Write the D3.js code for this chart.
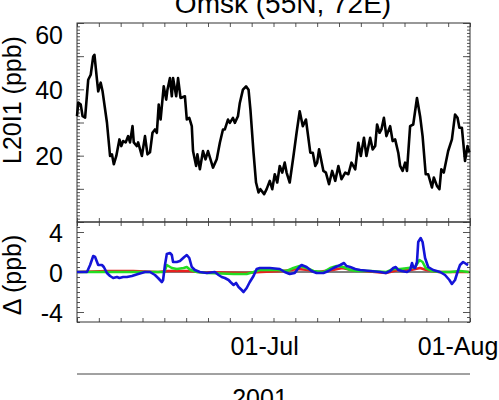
<!DOCTYPE html>
<html>
<head>
<meta charset="utf-8">
<script src="https://cdn.jsdelivr.net/npm/d3@7"></script>
<style>
body { margin: 0; background: #fff; }
text { font-family: "Liberation Sans", Arial, sans-serif; fill: #000; }
</style>
</head>
<body>
<div id="chart"></div>
<script>
// days counted from 01-Jun-2001 00:00
var startDate = new Date(2001, 5, 1);
var endDate = new Date(2001, 7, 3);

var blackDays = [0, 0.2, 0.6, 0.9, 1.3, 1.8, 2.2, 2.6, 2.8, 3.2, 3.4, 3.8, 4.1, 4.8, 5.3, 5.6, 5.9, 6.3, 6.8, 7.1,
	7.4, 7.8, 8.2, 8.5, 8.9, 9.1, 9.6, 9.8, 10.4, 10.9, 11.3, 11.7, 12.1, 12.5, 12.8, 13.1, 13.4, 13.9, 14.3, 14.5,
	14.9, 15.2, 15.4, 15.9, 16.2, 16.6, 17.3, 17.6, 18.0, 18.4, 18.6, 19.1, 19.3, 19.7, 20.2, 20.6, 21.0, 21.4, 21.8, 22.4,
	22.9, 23.4, 23.7, 24.2, 24.5, 25.0, 25.3, 25.8, 26.1, 26.6, 27.1, 27.5, 27.8, 28.3, 28.7, 29.1, 29.4, 30.0, 30.4, 30.9,
	31.3, 31.7, 32.1, 32.5, 32.9, 33.3, 33.6, 34.1, 34.7, 35.2, 35.7, 36.2, 36.7, 37.4, 37.8, 38.2, 38.5, 38.8, 39.5, 39.9,
	40.4, 40.9, 41.4, 41.9, 42.4, 43.0, 43.5, 44.0, 44.6, 45.1, 45.5, 46.0, 46.4, 47.0, 47.4, 47.8, 48.1, 48.5, 48.8, 49.2,
	49.6, 50.2, 50.6, 51.0, 51.5, 51.8, 52.2, 52.6, 52.9, 53.4, 53.9, 54.5, 55.0, 55.4, 55.9, 56.3, 56.9, 57.2, 57.7, 58.1,
	58.4, 58.8, 59.5, 60.1, 60.6, 61.0, 61.3, 61.7, 62.2, 62.6, 62.9];
var blackVals = [31.9, 36, 35.4, 31.9, 31.5, 42.9, 44.4, 49.9, 50.4, 42.9, 39.4, 42, 39.4, 30, 19.9, 20.4, 17.4, 19.9, 24.9, 22.9,
	24.4, 24, 25.9, 24, 28.9, 24, 22.9, 24, 19.9, 25.9, 20.4, 21, 26.9, 27.9, 26.9, 35.4, 30.9, 40.9, 36.9, 39.9,
	43.4, 37.9, 43.4, 37.9, 43.4, 37.4, 37.9, 30.9, 31.4, 28.9, 21.4, 16.9, 20.4, 15.9, 21.4, 18.9, 21.4, 18.9, 16.4, 18.9,
	23.9, 27.9, 27.9, 30.9, 29.9, 31.4, 29.9, 31.9, 35.9, 39.9, 40.9, 39.9, 33.9, 20.9, 11.9, 8.9, 9.9, 8.4, 9.9, 12.4,
	9.9, 14.4, 11.9, 16.9, 14.9, 17.9, 14.9, 11.9, 19.9, 26.9, 33.4, 28.9, 30.9, 20.9, 20.9, 16.9, 17.9, 21.9, 15.4, 14.9,
	11.4, 15.4, 12.4, 16.9, 12.9, 14.9, 14.4, 17.9, 15.9, 23.9, 19.9, 25.4, 19.9, 25.4, 21.9, 22.9, 29.4, 26.9, 27.9, 31.4,
	25.9, 28.9, 24.4, 24.9, 20.9, 16.9, 15.4, 17.9, 15.4, 28.9, 29.4, 37.4, 31.9, 25.9, 14.4, 14.4, 10.4, 13.4, 10.9, 9.9,
	15.9, 14.9, 21.4, 24.9, 32.4, 31.4, 28.4, 28.4, 18.4, 22.9, 21];

var blueDays = [0, 1.6, 2.1, 2.6, 2.9, 3.4, 4.0, 4.3, 4.8, 5.3, 5.8, 6.4, 6.8, 7.4, 8.0, 8.8, 9.8, 10.9, 11.7, 12.5,
	13.0, 13.6, 13.8, 14.1, 14.4, 14.9, 15.2, 15.4, 16.0, 16.5, 17.2, 17.6, 18.0, 18.4, 18.9, 19.7, 20.8, 22.1, 22.7, 23.2,
	23.7, 24.3, 24.6, 25.1, 25.5, 25.9, 26.4, 26.7, 27.2, 27.7, 28.3, 28.8, 29.3, 30.9, 32.5, 33.3, 34.1, 34.9, 35.5, 36.0,
	36.8, 37.6, 38.4, 39.5, 40.3, 41.1, 42.2, 42.8, 43.2, 43.8, 44.6, 45.4, 47.0, 48.6, 49.5, 50.2, 50.7, 51.1, 51.5, 52.1,
	52.9, 53.4, 53.7, 53.9, 54.2, 54.5, 54.7, 55.1, 55.4, 55.8, 56.3, 57.1, 58.2, 59.0, 59.7, 60.1, 60.6, 61.0, 61.4, 61.9,
	62.4, 62.7];
var blueVals = [0, 0, 0.7, 1.6, 1.5, 0.7, 0.7, 0.5, -0.1, -0.4, -0.6, -0.5, -0.6, -0.5, -0.5, -0.4, -0.2, 0, 0, -0.3,
	-0.6, -1.0, -0.8, 0.7, 1.8, 1.9, 1.7, 1.0, 1.0, 1.1, 1.5, 1.7, 1.4, 0.5, 0.2, 0, -0.1, 0, -0.3, -0.5,
	-0.6, -0.8, -1.0, -1.3, -1.1, -1.5, -1.8, -2.0, -1.6, -1.0, -0.4, 0.3, 0.4, 0.4, 0.3, 0, -0.2, -0.1, 0.4, 0.7,
	0.5, 0.1, -0.1, -0.1, 0.1, 0.4, 0.7, 0.9, 0.6, 0.5, 0.3, 0.2, 0.1, 0, -0.1, 0.1, 0.4, 0.5, 0.2, 0.1,
	0, 0.2, 0.9, 0.5, 0.4, 1.0, 3.0, 3.4, 3.0, 1.4, 0.5, 0.2, 0, -0.3, -0.8, -1.2, -0.8, 0, 0.7, 1.0,
	0.8, 0.7];

var greenDays = [0, 14.0, 14.4, 15.2, 16.0, 17.1, 17.6, 18.2, 19.2, 21.0, 25.1, 27.2, 28.3, 29.3, 32.1, 33.6, 34.7, 35.7, 36.8, 37.9,
	39.5, 40.6, 41.6, 42.7, 43.8, 44.8, 47.0, 49.6, 50.7, 51.8, 53.1, 54.2, 54.9, 55.4, 55.9, 56.9, 58.2, 59.8, 61.4, 62.8];
var greenVals = [0, 0, 0.7, 0.4, 0.3, 0.4, 0.5, 0.2, 0, -0.1, -0.2, -0.2, 0, 0.2, 0.2, 0.1, 0.4, 0.6, 0.4, 0.1,
	0, 0.4, 0.6, 0.5, 0.2, 0.1, 0.1, 0, 0.3, 0.3, 0.4, 0.5, 1.2, 1.0, 0.4, 0.1, 0, 0, 0.1, 0];

var redDays = [0, 5, 9, 13, 14.5, 18, 19.5, 27, 29.5, 33, 35.5, 37, 38.5, 41, 42.5, 44, 46, 49.5, 51.5, 53.5, 55, 56, 58, 62.8];
var redVals = [0, 0.1, 0.1, 0, 0.1, 0.1, 0, -0.1, 0, 0.1, 0.3, 0.2, 0, 0.2, 0.4, 0.2, 0.1, -0.1, 0.2, 0.2, 0.4, 0.2, 0, 0];

var dateLabels = ["2001-07-01", "2001-08-01"];
var topLabels = [20, 40, 60];
var botLabels = [-4, 0, 4];

var W = 499, H = 400;
var plot = {left: 77, right: 470, top: 23, mid: 222, bottom: 322};

function dayToDate(d) { return new Date(startDate.getTime() + d * 864e5); }
function pairs(days, vals) { return days.map(function(d, i){ return {date: dayToDate(d), v: vals[i]}; }); }

var xScale = d3.scaleTime().domain([startDate, endDate]).range([plot.left, plot.right]);
var yTop = d3.scaleLinear().domain([0, 60]).range([plot.mid, plot.top]);
var yBot = d3.scaleLinear().domain([-5, 5]).range([plot.bottom, plot.mid]);

var svg = d3.select("#chart").append("svg").attr("width", W).attr("height", H);

/* x ticks every 3.5 days */
var xTickDates = d3.range(0, 63.01, 3.5).map(dayToDate);

function tidy(g) {
	g.select(".domain").remove();
	g.attr("color", "#555").attr("font-size", 25).attr("font-family", '"Liberation Sans", Arial, sans-serif');
}

function panelAxes(y, minorStep, majorVals, labels) {
	var d = y.domain();
	var minors = d3.range(d[0], d[1] + 1e-9, minorStep);
	svg.append("g").attr("transform", "translate(" + plot.left + ",0)")
		.call(d3.axisLeft(y).tickValues(minors).tickSize(-3).tickFormat("")).call(tidy);
	svg.append("g").attr("transform", "translate(" + plot.right + ",0)")
		.call(d3.axisRight(y).tickValues(minors).tickSize(-3).tickFormat("")).call(tidy);
	svg.append("g").attr("transform", "translate(" + plot.right + ",0)")
		.call(d3.axisRight(y).tickValues(majorVals).tickSize(-7).tickFormat("")).call(tidy);
	var ax = svg.append("g").attr("transform", "translate(" + plot.left + ",0)")
		.call(d3.axisLeft(y).tickValues(majorVals).tickSize(-7).tickPadding(14)
			.tickFormat(function(v){ return labels.indexOf(v) >= 0 ? v : ""; }))
		.call(tidy);
	ax.selectAll(".tick text").attr("fill", "#000")
		.attr("dy", function(v){ return y(v) - plot.top < 10 ? "0.8em" : "0.36em"; });
	var y0 = y.range()[0], y1 = y.range()[1];
	svg.append("g").attr("transform", "translate(0," + y1 + ")")
		.call(d3.axisTop(xScale).tickValues(xTickDates).tickSize(-4).tickFormat("")).call(tidy);
	svg.append("g").attr("transform", "translate(0," + y0 + ")")
		.call(d3.axisBottom(xScale).tickValues(xTickDates).tickSize(-4).tickFormat("")).call(tidy);
	svg.append("rect").attr("x", plot.left).attr("y", y1)
		.attr("width", plot.right - plot.left).attr("height", y0 - y1)
		.attr("fill", "none").attr("stroke", "#333").attr("stroke-width", 1);
}

panelAxes(yTop, 1, d3.range(0, 61, 10), topLabels);
panelAxes(yBot, 0.5, botLabels, botLabels);

/* zero line */
svg.append("line").attr("x1", plot.left).attr("x2", plot.right)
	.attr("y1", yBot(0)).attr("y2", yBot(0)).attr("stroke", "#000").attr("stroke-width", 1);

var lineTop = d3.line().x(function(d){ return xScale(d.date); }).y(function(d){ return yTop(d.v); });
var lineBot = d3.line().x(function(d){ return xScale(d.date); }).y(function(d){ return yBot(d.v); });

svg.append("path").datum(pairs(blackDays, blackVals)).attr("d", lineTop)
	.attr("fill", "none").attr("stroke", "#000").attr("stroke-width", 2.6).attr("stroke-linejoin", "round");

[[redDays, redVals, "#e82020"], [greenDays, greenVals, "#22dd22"], [blueDays, blueVals, "#1414d8"]].forEach(function(s){
	svg.append("path").datum(pairs(s[0], s[1])).attr("d", lineBot)
		.attr("fill", "none").attr("stroke", s[2]).attr("stroke-width", 2.6).attr("stroke-linejoin", "round");
});

/* date labels */
var parseDay = d3.timeParse("%Y-%m-%d");
svg.append("g").attr("transform", "translate(0," + plot.bottom + ")")
	.call(d3.axisBottom(xScale).tickValues(dateLabels.map(parseDay)).tickSize(0).tickPadding(15)
		.tickFormat(d3.timeFormat("%d-%b")))
	.call(tidy)
	.selectAll(".tick text").attr("fill", "#000");

svg.append("line").attr("x1", plot.left).attr("x2", plot.right).attr("y1", 374).attr("y2", 374)
	.attr("stroke", "#444").attr("stroke-width", 1);

svg.append("text").text("2001").attr("x", 260).attr("y", 407)
	.attr("text-anchor", "middle").attr("font-size", 25);

svg.append("text").text("Omsk (55N, 72E)").attr("x", 283).attr("y", 13)
	.attr("text-anchor", "middle").attr("font-size", 28);

svg.append("text").text("L20I1 (ppb)").attr("text-anchor", "middle").attr("font-size", 25)
	.attr("transform", "translate(21,100) rotate(-90)");
svg.append("text").text("\u0394 (ppb)").attr("text-anchor", "middle").attr("font-size", 25)
	.attr("transform", "translate(21,275) rotate(-90)");
</script>
</body>
</html>
